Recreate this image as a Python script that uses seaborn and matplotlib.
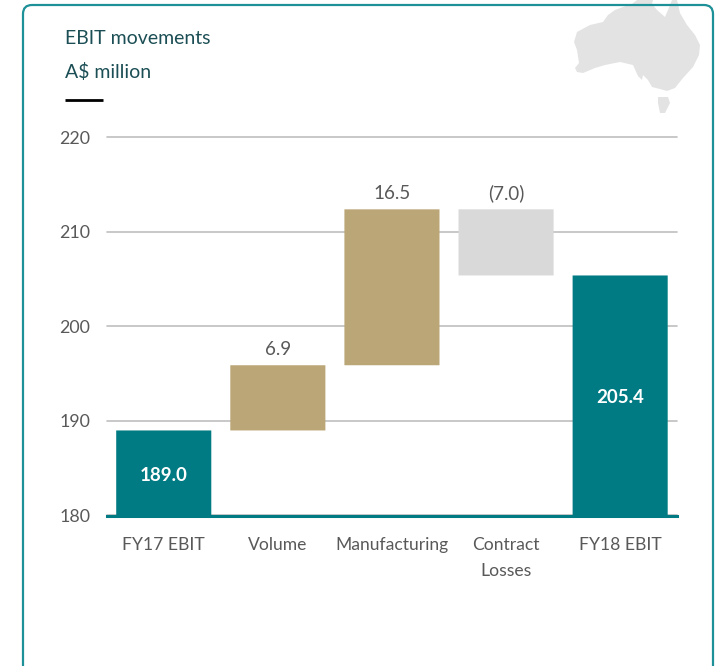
import matplotlib
matplotlib.use("Agg")
import matplotlib.pyplot as plt
from matplotlib.patches import FancyBboxPatch, Polygon
import numpy as np
import pandas as pd
import seaborn as sns

categories = ["FY17 EBIT", "Volume", "Manufacturing", "Contract\nLosses", "FY18 EBIT"]
values = [189.0, 6.9, 16.5, -7.0, 205.4]
value_labels = ["189.0", "6.9", "16.5", "(7.0)", "205.4"]
bar_colors = ["#007B83", "#BBA677", "#BBA677", "#D9D9D9", "#007B83"]
y_ticks = [180, 190, 200, 210, 220]
title_lines = ["EBIT movements", "A$ million"]

# Outline of the mainland and Tasmania for the corner emblem, in canvas pixels
mainland = [(577, 32), (590, 25), (603, 22), (608, 15), (615, 10), (623, 7), (632, 4), (637, 0),
            (653, 0), (652, 4), (657, 10), (665, 17), (668, 10), (672, 0), (677, 0), (680, 13),
            (687, 25), (695, 35), (700, 45), (699, 55), (693, 67), (683, 78), (675, 88),
            (667, 91), (660, 89), (652, 87), (648, 80), (643, 75), (642, 80), (638, 76),
            (633, 65), (620, 62), (605, 65), (595, 68), (583, 73), (577, 72), (575, 68),
            (579, 63), (577, 50), (574, 42)]
tasmania = [(658, 97), (668, 97), (670, 103), (665, 113), (660, 113), (658, 103)]

sns.set_theme(style="white")
plt.rcParams["font.family"] = ["Lato", "DejaVu Sans"]

W, H = 716, 666
fig = plt.figure(figsize=(W / 100, H / 100), dpi=100, facecolor="white")

# Pixel-addressed backdrop holding the card frame, emblem and heading
bg = fig.add_axes([0, 0, 1, 1], zorder=0)
bg.set_xlim(0, W)
bg.set_ylim(H, 0)
bg.axis("off")
bg.add_patch(Polygon(mainland, closed=True, fc="#E3E3E3", ec="none", zorder=1))
bg.add_patch(Polygon(tasmania, closed=True, fc="#E3E3E3", ec="none", zorder=1))
bg.add_patch(FancyBboxPatch((31, 13), 674, 700, boxstyle="round,pad=8,rounding_size=9",
                            fc="none", ec="#1E9097", lw=1.6, zorder=2))
bg.text(65, 38.5, title_lines[0], fontsize=14, color="#1C4F55", va="center", ha="left")
bg.text(65, 72, title_lines[1], fontsize=14, color="#1C4F55", va="center", ha="left")
bg.plot([65, 103], [99.5, 99.5], color="#000000", lw=2, solid_capstyle="butt")

# Waterfall: each movement floats on the running total, totals stand on zero
running = np.cumsum(values[:4])
bases = [0.0, running[0], running[1], running[3], 0.0]
heights = [values[0], values[1], values[2], -values[3], values[4]]
tops = [b + h for b, h in zip(bases, heights)]
df = pd.DataFrame({"category": categories, "height": heights})

ax = fig.add_axes([106.7 / W, 1 - 515.5 / H, 570.5 / W, 378 / H], zorder=1)
ax.patch.set_alpha(0)
sns.barplot(data=df, x="category", y="height", bottom=bases, width=95 / 114,
            color=bar_colors[0], saturation=1, ax=ax, zorder=3)
for patch, colour in zip(ax.patches, bar_colors):
    patch.set_facecolor(colour)
    patch.set_edgecolor("none")
    patch.set_snap(False)

ax.set_xlim(-0.5, 4.5)
ax.set_ylim(180, 220)
ax.set_yticks(y_ticks)
ax.set_xlabel("")
ax.set_ylabel("")
ax.yaxis.grid(True, color="#BFBFBF", lw=1.2, zorder=0, clip_on=False)
ax.set_axisbelow(True)
for side in ["top", "right", "left"]:
    ax.spines[side].set_visible(False)
ax.spines["bottom"].set_color("#007B83")
ax.spines["bottom"].set_linewidth(2.2)
ax.spines["bottom"].set_zorder(4)
ax.tick_params(axis="y", length=0, pad=12, labelsize=12.8, labelcolor="#595959")
ax.tick_params(axis="x", length=0, pad=15.5, labelsize=12.6, labelcolor="#595959")
for tick in ax.get_xticklabels():
    tick.set_linespacing(1.75)

for i, label in enumerate(value_labels):
    if i in (0, 4):
        ax.annotate(label, (i, (max(bases[i], 180) + tops[i]) / 2), xytext=(0, -1.5),
                    textcoords="offset points", ha="center", va="center",
                    color="white", fontsize=13.5, fontweight="bold", zorder=5)
    else:
        ax.annotate(label, (i, tops[i]), xytext=(0, 5), textcoords="offset points",
                    ha="center", va="bottom", color="#595959", fontsize=13.5, zorder=5)

fig.savefig("out.png", dpi=100, facecolor="white")
